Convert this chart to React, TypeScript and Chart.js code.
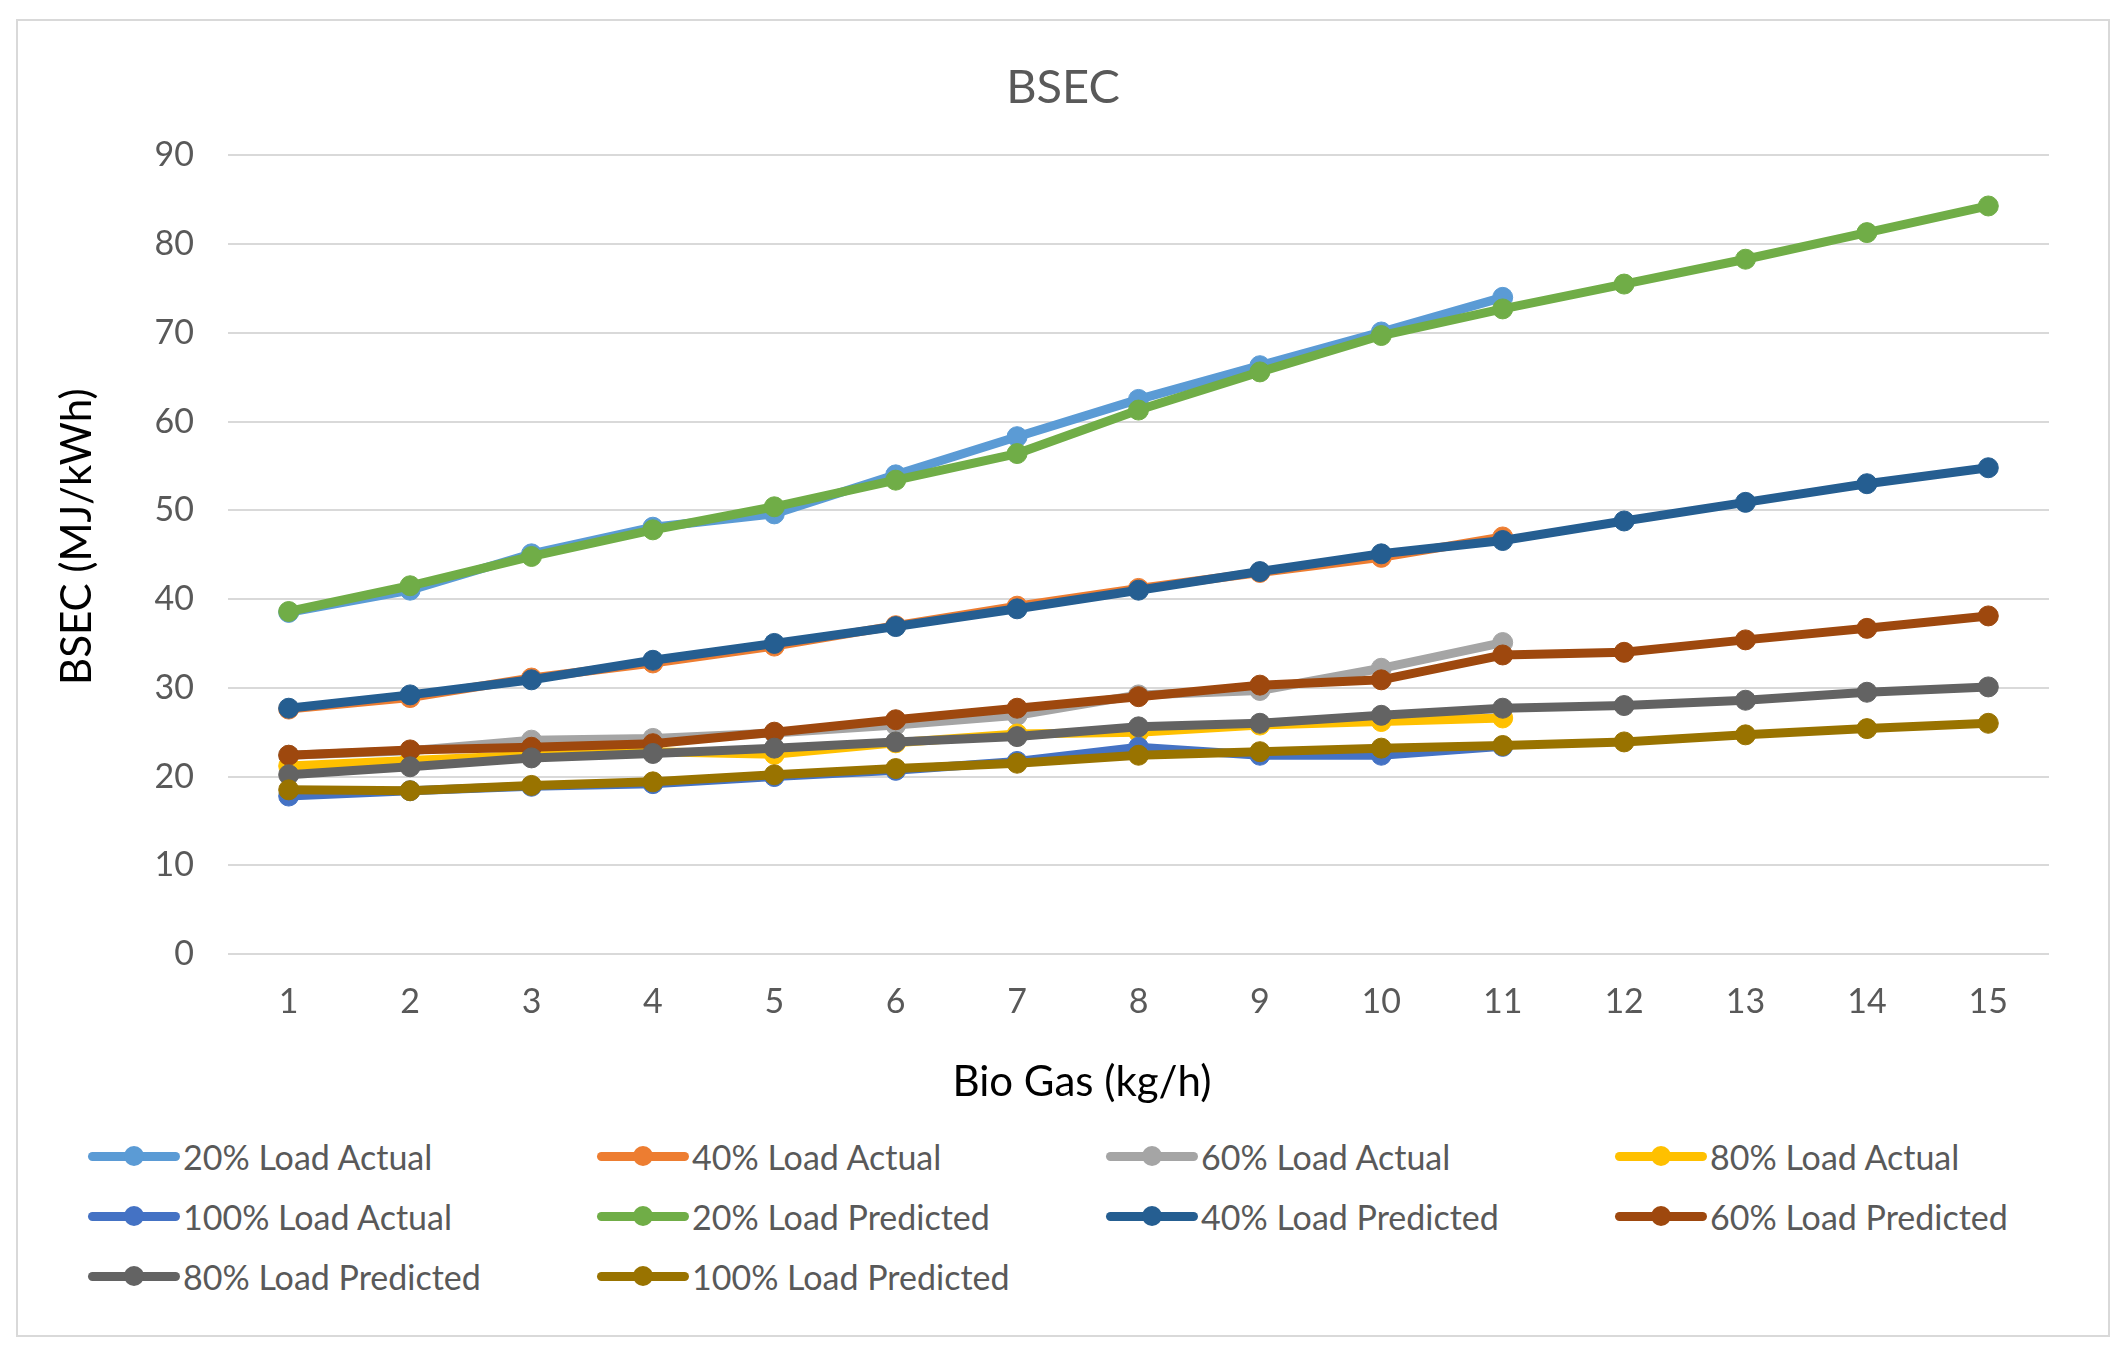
import React, { useEffect, useRef } from "react";
import { Chart, registerables } from "chart.js";

Chart.register(...registerables);

const xLabels = ["1", "2", "3", "4", "5", "6", "7", "8", "9", "10", "11", "12", "13", "14", "15"];

const load20Actual = [38.5, 41.0, 45.1, 48.1, 49.6, 54.0, 58.3, 62.5, 66.3, 70.1, 74.0];
const load40Actual = [27.6, 28.9, 31.1, 32.8, 34.7, 37.0, 39.2, 41.2, 43.0, 44.7, 47.0];
const load60Actual = [22.4, 22.9, 24.1, 24.3, 24.9, 25.8, 26.9, 29.2, 29.7, 32.2, 35.1];
const load80Actual = [21.2, 21.8, 22.4, 22.8, 22.5, 23.8, 24.8, 25.0, 25.8, 26.2, 26.6];
const load100Actual = [17.8, 18.4, 18.9, 19.2, 20.0, 20.7, 21.7, 23.3, 22.4, 22.4, 23.4];
const load20Predicted = [38.6, 41.5, 44.8, 47.8, 50.4, 53.4, 56.4, 61.3, 65.6, 69.7, 72.7, 75.5, 78.3, 81.3, 84.3];
const load40Predicted = [27.7, 29.2, 30.9, 33.1, 35.0, 36.9, 38.9, 41.0, 43.1, 45.1, 46.6, 48.8, 50.9, 53.0, 54.8];
const load60Predicted = [22.4, 23.0, 23.3, 23.7, 25.0, 26.4, 27.7, 29.0, 30.3, 30.9, 33.7, 34.0, 35.4, 36.7, 38.1];
const load80Predicted = [20.2, 21.1, 22.1, 22.6, 23.2, 23.9, 24.5, 25.6, 26.0, 26.9, 27.7, 28.0, 28.6, 29.5, 30.1];
const load100Predicted = [18.5, 18.4, 19.0, 19.4, 20.2, 20.9, 21.5, 22.4, 22.8, 23.2, 23.5, 23.9, 24.7, 25.4, 26.0];

const seriesNames = [
  "20% Load Actual",
  "40% Load Actual",
  "60% Load Actual",
  "80% Load Actual",
  "100% Load Actual",
  "20% Load Predicted",
  "40% Load Predicted",
  "60% Load Predicted",
  "80% Load Predicted",
  "100% Load Predicted",
];
const seriesData = [
  load20Actual,
  load40Actual,
  load60Actual,
  load80Actual,
  load100Actual,
  load20Predicted,
  load40Predicted,
  load60Predicted,
  load80Predicted,
  load100Predicted,
];
const seriesColors = [
  "#5B9BD5",
  "#ED7D31",
  "#A5A5A5",
  "#FFC000",
  "#4472C4",
  "#70AD47",
  "#255E91",
  "#9E480E",
  "#636363",
  "#997300",
];

const yTicks = [0, 10, 20, 30, 40, 50, 60, 70, 80, 90];

const chartTitle = "BSEC";
const xAxisTitle = "Bio Gas (kg/h)";
const yAxisTitle = "BSEC (MJ/kWh)";

const FONT = "Lato, 'Noto Sans', sans-serif";

const axisTitlePlugin = {
  id: "axisTitles",
  afterDraw(chart: any) {
    const ctx = chart.ctx;
    const xs = chart.scales.x;
    const ys = chart.scales.y;
    ctx.save();
    ctx.font = `42px ${FONT}`;
    ctx.fillStyle = "#000000";
    ctx.textAlign = "center";
    ctx.textBaseline = "middle";
    ctx.fillText(xAxisTitle, chart.width / 2 + 19, xs.bottom - 39);
    ctx.translate(59, (ys.top + ys.bottom) / 2 - 18);
    ctx.rotate(-Math.PI / 2);
    ctx.fillText(yAxisTitle, 0, 0);
    ctx.restore();
  },
};

export default function App() {
  const canvasRef = useRef<HTMLCanvasElement | null>(null);

  useEffect(() => {
    if (!canvasRef.current) return;
    const chart = new Chart(canvasRef.current, {
      type: "line",
      data: {
        labels: xLabels,
        datasets: seriesNames.map((name, i) => ({
          label: name,
          data: seriesData[i],
          borderColor: seriesColors[i],
          backgroundColor: seriesColors[i],
          pointBackgroundColor: seriesColors[i],
          pointBorderColor: seriesColors[i],
          pointBorderWidth: 1,
          pointRadius: 10,
          borderWidth: 9,
          tension: 0,
          fill: false,
          order: seriesNames.length - i,
        })),
      },
      plugins: [axisTitlePlugin],
      options: {
        animation: false,
        responsive: true,
        maintainAspectRatio: false,
        layout: { padding: { left: 59, right: 59, top: 0, bottom: 0 } },
        plugins: {
          legend: { display: false },
          tooltip: { enabled: false },
          title: {
            display: true,
            text: chartTitle,
            color: "#595959",
            font: { family: FONT, size: 47, weight: "normal" },
            padding: { top: 39, bottom: 39 },
          },
        },
        scales: {
          x: {
            offset: true,
            grid: { display: false, drawTicks: false },
            border: { display: false },
            ticks: {
              color: "#595959",
              font: { family: FONT, size: 34 },
              padding: 28,
              maxRotation: 0,
              autoSkip: false,
            },
            afterFit: (scale: any) => {
              scale.height = 167;
            },
          },
          y: {
            min: 0,
            max: 90,
            afterBuildTicks: (scale: any) => {
              scale.ticks = yTicks.map((v) => ({ value: v }));
            },
            grid: { color: "#D9D9D9", lineWidth: 2, drawTicks: false },
            border: { display: false },
            ticks: {
              color: "#595959",
              font: { family: FONT, size: 34 },
              padding: 34,
            },
            afterFit: (scale: any) => {
              scale.width = 151;
            },
          },
        },
      },
    });
    return () => chart.destroy();
  }, []);

  return (
    <div>
      <div
        style={{
          position: "absolute",
          left: 16,
          top: 19,
          width: 2094,
          height: 1318,
          boxSizing: "border-box",
          border: "2px solid #D9D9D9",
          background: "#FFFFFF",
        }}
      />
      <div style={{ position: "absolute", left: 18, top: 21, width: 2090, height: 1100 }}>
        <canvas ref={canvasRef} />
      </div>
      <div
        style={{
          position: "absolute",
          left: 88,
          top: 1126,
          display: "grid",
          gridTemplateColumns: "509px 509px 509px 509px",
          gridAutoRows: "60px",
          fontFamily: FONT,
          fontSize: 34,
          color: "#595959",
        }}
      >
        {seriesNames.map((name, i) => (
          <div key={name} style={{ display: "flex", alignItems: "center", whiteSpace: "nowrap" }}>
            <div style={{ position: "relative", width: 92, height: 20, flex: "0 0 92px" }}>
              <div
                style={{
                  position: "absolute",
                  left: 0,
                  top: 5.5,
                  width: 92,
                  height: 9,
                  borderRadius: 4.5,
                  background: seriesColors[i],
                }}
              />
              <div
                style={{
                  position: "absolute",
                  left: 36,
                  top: 0,
                  width: 20,
                  height: 20,
                  borderRadius: 10,
                  background: seriesColors[i],
                }}
              />
            </div>
            <span style={{ marginLeft: 3 }}>{name}</span>
          </div>
        ))}
      </div>
    </div>
  );
}
